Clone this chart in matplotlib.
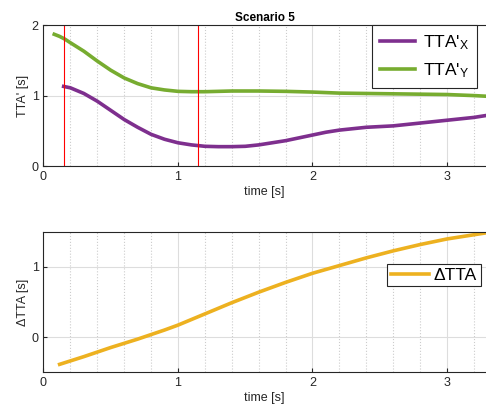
import matplotlib
matplotlib.use('Agg')
import matplotlib.pyplot as plt
from matplotlib.ticker import MultipleLocator

plt.rcParams['font.family'] = ['Liberation Sans', 'DejaVu Sans']
plt.rcParams['mathtext.default'] = 'regular'

# Datos
t_x = [0.15, 0.2, 0.3, 0.4, 0.5, 0.6, 0.7, 0.8, 0.9, 1.0, 1.1, 1.2, 1.3, 1.4, 1.5,
       1.6, 1.7, 1.8, 1.9, 2.0, 2.1, 2.2, 2.3, 2.4, 2.6, 2.8, 3.0, 3.2, 3.3]
tta_x = [1.13, 1.11, 1.03, 0.92, 0.79, 0.66, 0.55, 0.45, 0.38, 0.33, 0.30, 0.28, 0.275, 0.275, 0.28,
         0.30, 0.33, 0.36, 0.40, 0.44, 0.48, 0.51, 0.53, 0.55, 0.57, 0.61, 0.65, 0.69, 0.72]

t_y = [0.08, 0.12, 0.16, 0.2, 0.3, 0.4, 0.5, 0.6, 0.7, 0.8, 0.9, 1.0, 1.1, 1.2, 1.4, 1.6,
       1.8, 2.0, 2.2, 2.4, 2.6, 2.8, 3.0, 3.2, 3.3]
tta_y = [1.87, 1.84, 1.80, 1.75, 1.63, 1.49, 1.36, 1.25, 1.17, 1.11, 1.08, 1.06, 1.055, 1.055, 1.065, 1.065,
         1.06, 1.05, 1.035, 1.03, 1.025, 1.02, 1.015, 1.0, 0.99]

t_d = [0.12, 0.3, 0.5, 0.7, 0.9, 1.0, 1.2, 1.4, 1.6, 1.8, 2.0, 2.2, 2.4, 2.6, 2.8, 3.0, 3.2, 3.3]
delta_tta = [-0.39, -0.28, -0.15, -0.03, 0.10, 0.17, 0.33, 0.49, 0.64, 0.78, 0.91, 1.02, 1.13, 1.23,
             1.32, 1.40, 1.46, 1.49]

lineas_rojas = [0.15, 1.15]

morado = '#7E2F8E'
verde = '#77AC30'
naranja = '#EDB120'

fig = plt.figure(figsize=(4.86, 4.12), dpi=100)
ax1 = fig.add_axes([0.0895, 0.597, 0.9105, 0.342])
ax2 = fig.add_axes([0.0895, 0.097, 0.9105, 0.340])

def estilo(ax):
    ax.set_xlim(0, 3.29)
    ax.xaxis.set_major_locator(MultipleLocator(1))
    ax.xaxis.set_minor_locator(MultipleLocator(0.2))
    ax.grid(True, which='major', color='#dddddd', linewidth=0.8)
    ax.grid(True, which='minor', axis='x', color='#cccccc', linestyle=':', linewidth=0.8)
    ax.tick_params(which='major', direction='in', labelsize=9, colors='#262626', length=3)
    ax.tick_params(which='minor', direction='in', length=0)
    ax.spines['right'].set_visible(False)
    for s in ['top', 'left', 'bottom']:
        ax.spines[s].set_color('#262626')
    ax.set_axisbelow(True)
    ax.set_xlabel('time [s]', fontsize=9, color='#262626', labelpad=2)

# Grafico superior
estilo(ax1)
ax1.set_ylim(0, 2)
ax1.yaxis.set_major_locator(MultipleLocator(1))
ax1.plot(t_x, tta_x, color=morado, linewidth=2.6, label="TTA'$_X$")
ax1.plot(t_y, tta_y, color=verde, linewidth=2.6, label="TTA'$_Y$")
for xr in lineas_rojas:
    ax1.axvline(xr, color='red', linewidth=0.8)
ax1.set_ylabel("TTA' [s]", fontsize=9, color='#262626', labelpad=2)
ax1.set_title('Scenario 5', fontsize=8.5, fontweight='bold', pad=3)
leg1 = ax1.legend(loc='upper right', fontsize=12.5, fancybox=False, framealpha=1,
                  edgecolor='#262626', borderaxespad=0.0, handlelength=2.0,
                  handletextpad=0.5, borderpad=0.45, labelspacing=0.55,
                  bbox_to_anchor=(0.9804, 1.0))
leg1.get_frame().set_linewidth(0.8)

# Grafico inferior
estilo(ax2)
ax2.set_ylim(-0.5, 1.5)
ax2.yaxis.set_major_locator(MultipleLocator(1))
ax2.plot(t_d, delta_tta, color=naranja, linewidth=2.6, label='ΔTTA')
ax2.set_ylabel('ΔTTA [s]', fontsize=9, color='#262626', labelpad=2)
leg2 = ax2.legend(loc='upper right', fontsize=12.5, fancybox=False, framealpha=1,
                  edgecolor='#262626', borderaxespad=0.0, handlelength=2.2,
                  handletextpad=0.3, borderpad=0.2, bbox_to_anchor=(0.988, 0.77))
leg2.get_frame().set_linewidth(0.8)

fig.savefig('out.png', dpi=100)
